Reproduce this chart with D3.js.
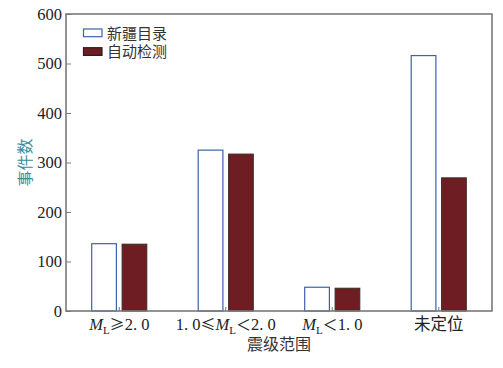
<!DOCTYPE html>
<html><head><meta charset="utf-8">
<script src="https://cdn.jsdelivr.net/npm/d3@7"></script>
<style>
body{margin:0;background:#fff;}
text{font-family:"Liberation Serif","Noto Sans CJK SC",serif;fill:#222;}
</style></head>
<body>
<svg id="c" width="503" height="368"></svg>
<script>
const categories = ["ML≥2.0", "1.0≤ML<2.0", "ML<1.0", "未定位"];
const seriesNames = ["新疆目录", "自动检测"];
const catalogValues = [136, 325, 48, 516];
const autoValues = [135, 317, 46, 269];
const yTicks = [0, 100, 200, 300, 400, 500, 600];
const xTitle = "震级范围";
const yTitle = "事件数";

const svg = d3.select("#c");
const L = 66, R = 492, T = 14, B = 311;
const x = d3.scaleBand().domain(categories).range([L, R]).padding(0);
const y = d3.scaleLinear().domain([0, 600]).range([B, T]);
const frameColor = "#7a7a7a";
const blue = "#3d62ad", red = "#6e1e22";
const cjk = '"Noto Sans CJK SC",sans-serif';

const barW = 24.7, gap = 5.7;
const data = categories.map((c, i) => ({c, a: catalogValues[i], b: autoValues[i]}));
const g = svg.append("g");
g.selectAll(".ha").data(data).join("rect")
  .attr("x", d => x(d.c) + x.bandwidth()/2 - gap/2 - barW)
  .attr("y", d => y(d.a)).attr("width", barW).attr("height", d => B - y(d.a))
  .attr("fill", "#fff").attr("stroke", blue).attr("stroke-width", 1.2);
g.selectAll(".hb").data(data).join("rect")
  .attr("x", d => x(d.c) + x.bandwidth()/2 + gap/2)
  .attr("y", d => y(d.b)).attr("width", barW).attr("height", d => B - y(d.b))
  .attr("fill", red).attr("stroke", "#3a2a2a").attr("stroke-width", 1);

const yAxis = d3.axisLeft(y).tickValues(yTicks).tickSizeInner(-5).tickSizeOuter(0).tickPadding(4);
const ya = svg.append("g").attr("transform", `translate(${L},0)`).call(yAxis);
ya.select(".domain").remove();
ya.selectAll(".tick line").attr("stroke", frameColor).attr("stroke-width", 1);
ya.selectAll(".tick text").attr("font-size", 16.5).style("font-family", '"Liberation Serif",serif').attr("fill", "#222");

const xAxis = d3.axisBottom(x).tickSizeInner(-4).tickSizeOuter(0).tickFormat(() => "");
const xa = svg.append("g").attr("transform", `translate(0,${B})`).call(xAxis);
xa.select(".domain").remove();
xa.selectAll(".tick line").attr("stroke", frameColor).attr("stroke-width", 1);

svg.append("rect").attr("x", L).attr("y", T).attr("width", R - L).attr("height", B - T)
  .attr("fill", "none").attr("stroke", frameColor).attr("stroke-width", 1.6);

function label(sel, parts) {
  parts.forEach(p => {
    const t = sel.append("tspan").text(p.t);
    if (p.it) t.attr("font-style", "italic");
    if (p.sub) t.attr("font-size", 11).attr("dy", 4);
    if (p.up) t.attr("dy", -4);
    if (p.cj) t.style("font-family", cjk).attr("font-size", 15);
  });
}
const labelParts = [
  [{t:"M", it:1},{t:"L", sub:1},{t:"≥", up:1, cj:1},{t:"2. 0"}],
  [{t:"1. 0"},{t:"≤", cj:1},{t:"M", it:1},{t:"L", sub:1},{t:"＜", up:1, cj:1},{t:"2. 0"}],
  [{t:"M", it:1},{t:"L", sub:1},{t:"＜", up:1, cj:1},{t:"1. 0"}],
  [{t:"未定位"}]
];
categories.forEach((c, i) => {
  const t = svg.append("text").attr("x", x(c) + x.bandwidth()/2).attr("y", 330)
    .attr("text-anchor", "middle").attr("font-size", 16.5);
  label(t, labelParts[i]);
});

svg.append("text").attr("x", (L + R)/2).attr("y", 350).attr("text-anchor", "middle")
  .attr("font-size", 16).style("fill", "#333").text(xTitle);
svg.append("text").attr("transform", `translate(31,${(T + B)/2}) rotate(-90)`)
  .attr("text-anchor", "middle").attr("font-size", 16).style("fill", "#3a8e9a").text(yTitle);

const lg = svg.append("g");
[0, 1].forEach(i => {
  const yy = 29 + i * 18.7;
  lg.append("rect").attr("x", 83.5).attr("y", yy).attr("width", 18.5).attr("height", 7.7)
    .attr("fill", i ? red : "#fff").attr("stroke", i ? "#222" : blue).attr("stroke-width", 1.2);
  lg.append("text").attr("x", 107).attr("y", yy + 9.5).attr("font-size", 15).style("fill", "#333").text(seriesNames[i]);
});
</script>
</body></html>
